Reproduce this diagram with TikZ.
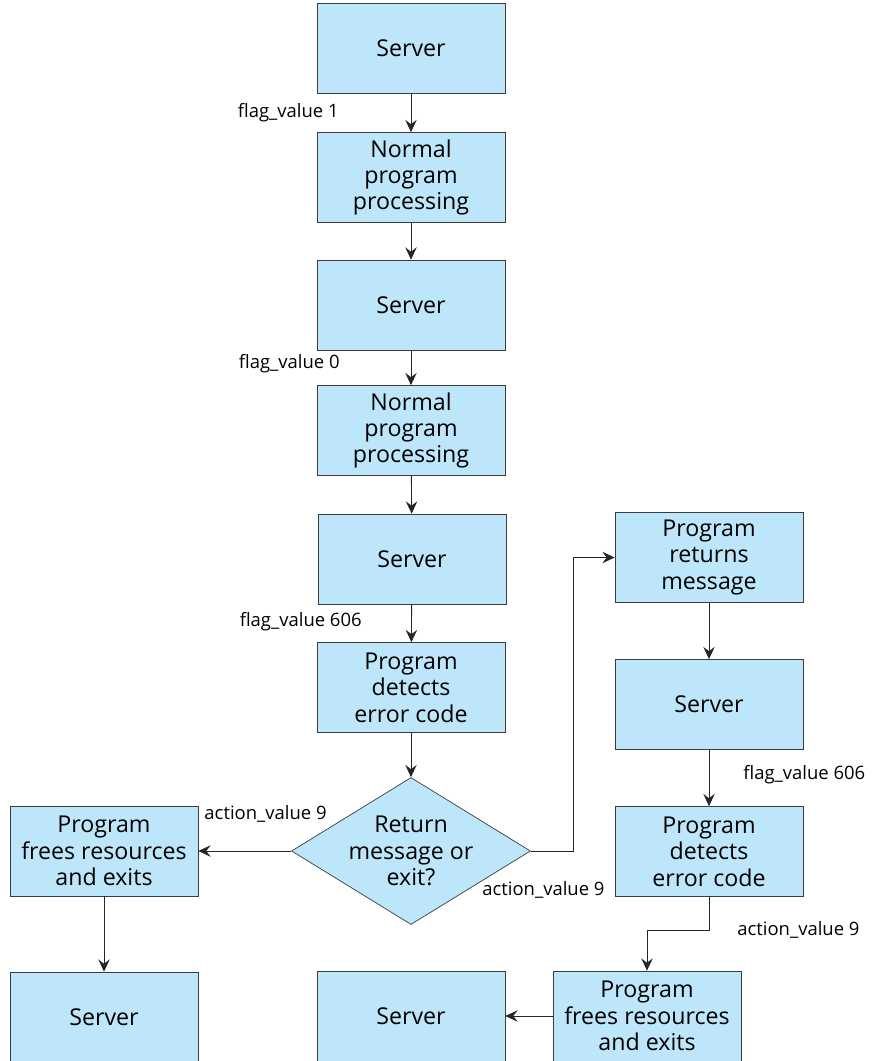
\documentclass[tikz,border=0pt]{standalone}
\usepackage{fontspec}
\setmainfont{Open Sans}
\usepackage{xcolor}
\usetikzlibrary{arrows.meta,positioning,shapes.geometric}
\definecolor{boxblue}{RGB}{190,230,250}
\definecolor{edgegray}{RGB}{60,60,60}

\begin{document}
\begin{tikzpicture}[
  blk/.style={draw=edgegray,fill=boxblue,minimum width=3.76cm,minimum height=1.8cm,
    align=center,font=\fontsize{13.2}{15}\selectfont,inner sep=0pt},
  dec/.style={draw=edgegray,fill=boxblue,diamond,aspect=1.63,minimum width=4.78cm,
    minimum height=2.94cm,inner sep=0pt,align=center,font=\fontsize{13.2}{15}\selectfont},
  lab/.style={font=\fontsize{10.5}{12}\selectfont,inner sep=0pt},
  arr/.style={draw=black!85,line width=0.5pt,-{Stealth[length=7pt,width=6.5pt,inset=2.5pt]}}]
 \useasboundingbox (0,0) rectangle (17.48,-21.22);
 % main column
 \node[blk] (s1) at (8.22,-0.97) {Server};
 \node[blk] (n1) at (8.22,-3.55) {Normal\\program\\processing};
 \node[blk] (s2) at (8.22,-6.10) {Server};
 \node[blk] (n2) at (8.22,-8.61) {Normal\\program\\processing};
 \node[blk] (s3) at (8.24,-11.18) {Server};
 \node[blk] (d1) at (8.22,-13.75) {Program\\detects\\error code};
 \node[dec] (q) at (8.22,-17.02) {Return\\message or\\exit?};
 % exit branch
 \node[blk] (l1) at (2.08,-17.02) {Program\\frees resources\\and exits};
 \node[blk] (l2) at (2.08,-20.34) {Server};
 % message branch
 \node[blk] (r1) at (14.18,-11.15) {Program\\returns\\message};
 \node[blk] (r2) at (14.18,-14.09) {Server};
 \node[blk] (r3) at (14.18,-17.03) {Program\\detects\\error code};
 \node[blk] (b1) at (12.94,-20.32) {Program\\frees resources\\and exits};
 \node[blk] (b2) at (8.22,-20.32) {Server};
 \coordinate (up) at (11.46,-11.15);
 \coordinate (dn) at (12.94,-18.6);
 % labels
 \node[lab,anchor=east] (f1) at (6.78,-2.26) {flag\_value 1};
 \node[lab,anchor=east] (f2) at (6.80,-7.28) {flag\_value 0};
 \node[lab,anchor=east] (f3) at (7.24,-12.44) {flag\_value 606};
 \node[lab,anchor=east] (a1) at (6.54,-16.28) {action\_value 9};
 \node[lab,anchor=west] (a2) at (9.64,-17.80) {action\_value 9};
 \node[lab,anchor=west] (f4) at (14.86,-15.50) {flag\_value 606};
 \node[lab,anchor=west] (a3) at (14.74,-18.60) {action\_value 9};
 % connectors
 \draw[arr] (s1) -- (n1);
 \draw[arr] (n1) -- (s2);
 \draw[arr] (s2) -- (n2);
 \draw[arr] (n2) -- (s3);
 \draw[arr] (s3) -- (d1);
 \draw[arr] (d1) -- (q);
 \draw[arr] (q.west) -- (l1.east);
 \draw[arr] (l1) -- (l2);
 \draw[arr] (q.east) -| (up) -- (r1.west);
 \draw[arr] (r1) -- (r2);
 \draw[arr] (r2) -- (r3);
 \draw[arr] (r3.south) |- (dn) -- (b1.north);
 \draw[arr] (b1.west) -- (b2.east);
\end{tikzpicture}
\end{document}
